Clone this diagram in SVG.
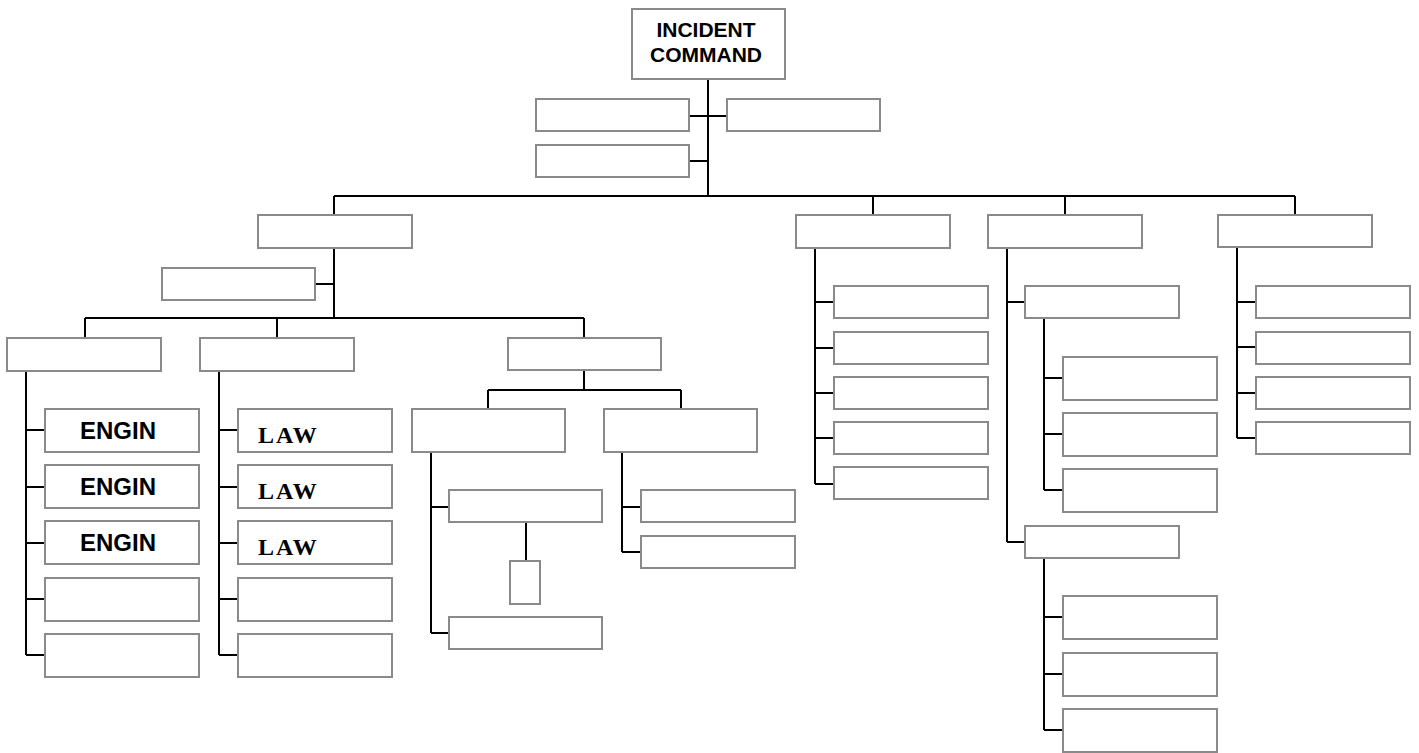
<svg xmlns="http://www.w3.org/2000/svg" width="1419" height="753" viewBox="0 0 1419 753">
  <style>
    .box { fill: #ffffff; stroke: #8a8a8a; stroke-width: 2; }
    .wire { fill: none; stroke: #000000; stroke-width: 2; }
    .sans { font-family: "Liberation Sans", Arial, sans-serif; font-weight: bold; fill: #000; }
    .serif { font-family: "Liberation Serif", "Times New Roman", serif; font-weight: bold; fill: #000; letter-spacing: 2px; }
  </style>
  <rect width="1419" height="753" fill="#ffffff"/>

  <!-- connectors -->
  <g id="connectors" class="wire">
    <path d="M708,79 V196 M689,116 H727 M689,161 H708"/>
    <path d="M334,196 H1295 M334,196 V215 M873,196 V215 M1065,196 V215 M1295,196 V215"/>
    <!-- operations branch -->
    <path d="M334,248 V318 M315,284 H334 M85,318 H584 M85,318 V338 M277,318 V338 M584,318 V338"/>
    <path d="M26,371 V655 M26,430 H45 M26,487 H45 M26,543 H45 M26,599 H45 M26,655 H45"/>
    <path d="M219,371 V655 M219,430 H238 M219,487 H238 M219,543 H238 M219,599 H238 M219,655 H238"/>
    <path d="M584,370 V390 M488,390 H681 M488,390 V409 M681,390 V409"/>
    <path d="M431,452 V633 M431,507 H449 M431,633 H449 M526,522 V561"/>
    <path d="M622,452 V552 M622,507 H641 M622,552 H641"/>
    <!-- planning branch -->
    <path d="M815,248 V484 M815,302 H834 M815,348 H834 M815,393 H834 M815,438 H834 M815,484 H834"/>
    <!-- logistics branch -->
    <path d="M1007,248 V542 M1007,302 H1025 M1007,542 H1025"/>
    <path d="M1044,318 V490 M1044,378 H1063 M1044,434 H1063 M1044,490 H1063"/>
    <path d="M1044,558 V730 M1044,617 H1063 M1044,674 H1063 M1044,730 H1063"/>
    <!-- finance branch -->
    <path d="M1237,247 V438 M1237,302 H1256 M1237,347 H1256 M1237,393 H1256 M1237,438 H1256"/>
  </g>

  <!-- command -->
  <g id="incident-command">
    <rect class="box" x="632" y="9" width="153" height="70"/>
    <text class="sans" x="706" y="37" font-size="21" text-anchor="middle">INCIDENT</text>
    <text class="sans" x="706" y="62" font-size="21" text-anchor="middle">COMMAND</text>
  </g>
  <g id="staff-1"><rect class="box" x="536" y="99" width="153" height="32"/></g>
  <g id="staff-2"><rect class="box" x="727" y="99" width="153" height="32"/></g>
  <g id="staff-3"><rect class="box" x="536" y="145" width="153" height="32"/></g>

  <!-- operations -->
  <g id="operations"><rect class="box" x="258" y="215" width="154" height="33"/></g>
  <g id="operations-aide"><rect class="box" x="162" y="268" width="153" height="32"/></g>
  <g id="ops-a"><rect class="box" x="7" y="338" width="154" height="33"/></g>
  <g id="ops-b"><rect class="box" x="200" y="338" width="154" height="33"/></g>
  <g id="ops-c"><rect class="box" x="508" y="338" width="153" height="32"/></g>

  <g id="engine-1"><rect class="box" x="45" y="409" width="154" height="43"/><text class="sans" x="80" y="439" font-size="24">ENGIN</text></g>
  <g id="engine-2"><rect class="box" x="45" y="465" width="154" height="43"/><text class="sans" x="80" y="495" font-size="24">ENGIN</text></g>
  <g id="engine-3"><rect class="box" x="45" y="521" width="154" height="43"/><text class="sans" x="80" y="551" font-size="24">ENGIN</text></g>
  <g id="ops-a-4"><rect class="box" x="45" y="578" width="154" height="43"/></g>
  <g id="ops-a-5"><rect class="box" x="45" y="634" width="154" height="43"/></g>

  <g id="law-1"><rect class="box" x="238" y="409" width="154" height="43"/><text class="serif" x="258" y="443" font-size="24">LAW</text></g>
  <g id="law-2"><rect class="box" x="238" y="465" width="154" height="43"/><text class="serif" x="258" y="499" font-size="24">LAW</text></g>
  <g id="law-3"><rect class="box" x="238" y="521" width="154" height="43"/><text class="serif" x="258" y="555" font-size="24">LAW</text></g>
  <g id="ops-b-4"><rect class="box" x="238" y="578" width="154" height="43"/></g>
  <g id="ops-b-5"><rect class="box" x="238" y="634" width="154" height="43"/></g>

  <g id="ops-c-1"><rect class="box" x="412" y="409" width="153" height="43"/></g>
  <g id="ops-c-2"><rect class="box" x="604" y="409" width="153" height="43"/></g>
  <g id="ops-c-1a"><rect class="box" x="449" y="490" width="153" height="32"/></g>
  <g id="ops-c-1a-sub"><rect class="box" x="510" y="561" width="30" height="43"/></g>
  <g id="ops-c-1b"><rect class="box" x="449" y="617" width="153" height="32"/></g>
  <g id="ops-c-2a"><rect class="box" x="641" y="490" width="154" height="32"/></g>
  <g id="ops-c-2b"><rect class="box" x="641" y="536" width="154" height="32"/></g>

  <!-- planning -->
  <g id="planning"><rect class="box" x="796" y="215" width="154" height="33"/></g>
  <g id="planning-1"><rect class="box" x="834" y="286" width="154" height="32"/></g>
  <g id="planning-2"><rect class="box" x="834" y="332" width="154" height="32"/></g>
  <g id="planning-3"><rect class="box" x="834" y="377" width="154" height="32"/></g>
  <g id="planning-4"><rect class="box" x="834" y="422" width="154" height="32"/></g>
  <g id="planning-5"><rect class="box" x="834" y="467" width="154" height="32"/></g>

  <!-- logistics -->
  <g id="logistics"><rect class="box" x="988" y="215" width="154" height="33"/></g>
  <g id="logistics-a"><rect class="box" x="1025" y="286" width="154" height="32"/></g>
  <g id="logistics-a-1"><rect class="box" x="1063" y="357" width="154" height="43"/></g>
  <g id="logistics-a-2"><rect class="box" x="1063" y="413" width="154" height="43"/></g>
  <g id="logistics-a-3"><rect class="box" x="1063" y="469" width="154" height="43"/></g>
  <g id="logistics-b"><rect class="box" x="1025" y="526" width="154" height="32"/></g>
  <g id="logistics-b-1"><rect class="box" x="1063" y="596" width="154" height="43"/></g>
  <g id="logistics-b-2"><rect class="box" x="1063" y="653" width="154" height="43"/></g>
  <g id="logistics-b-3"><rect class="box" x="1063" y="709" width="154" height="43"/></g>

  <!-- finance -->
  <g id="finance"><rect class="box" x="1218" y="215" width="154" height="32"/></g>
  <g id="finance-1"><rect class="box" x="1256" y="286" width="154" height="32"/></g>
  <g id="finance-2"><rect class="box" x="1256" y="332" width="154" height="32"/></g>
  <g id="finance-3"><rect class="box" x="1256" y="377" width="154" height="32"/></g>
  <g id="finance-4"><rect class="box" x="1256" y="422" width="154" height="32"/></g>
</svg>
